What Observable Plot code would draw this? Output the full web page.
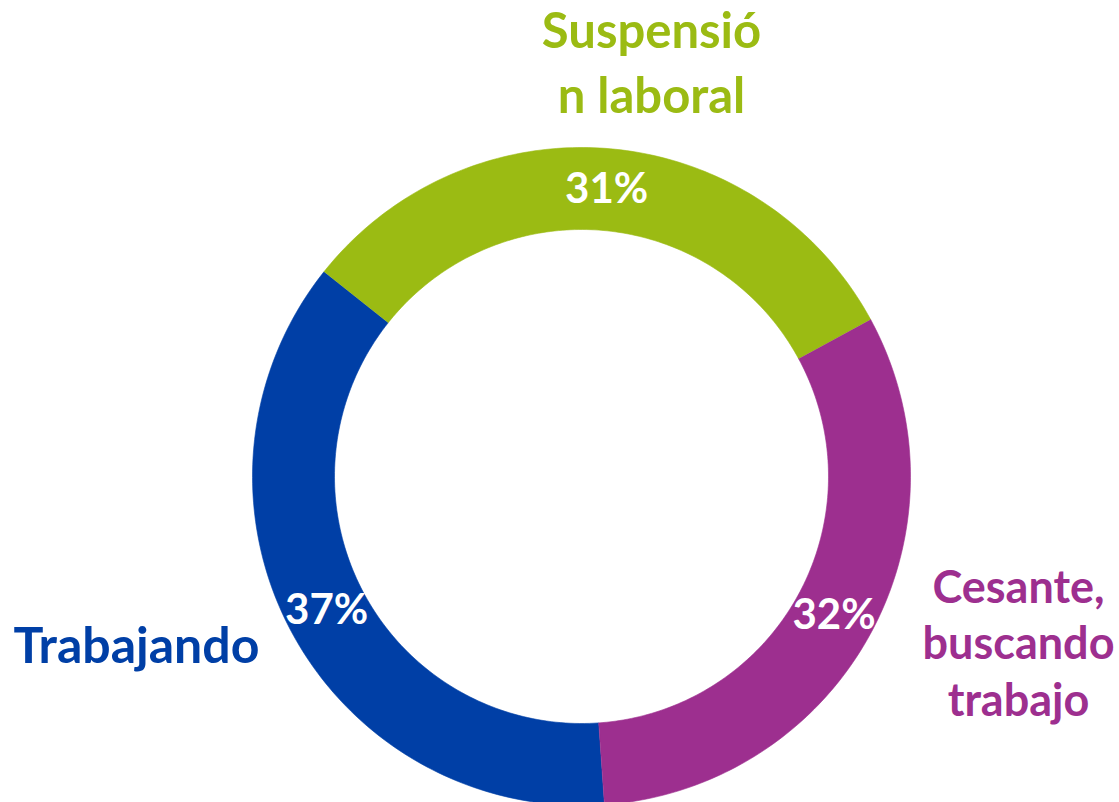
<!DOCTYPE html>
<html>
<head>
<meta charset="utf-8">
<script src="https://cdn.jsdelivr.net/npm/d3@7"></script>
<script src="https://cdn.jsdelivr.net/npm/@observablehq/plot@0.6"></script>
<style>
  html, body { margin: 0; padding: 0; background: #fff; }
  #chart { width: 1119px; height: 802px; overflow: hidden; }
</style>
</head>
<body>
<div id="chart"></div>
<script>
// ---- data ----
const categories = ["Trabajando", "Suspensión laboral", "Cesante, buscando trabajo"];
const values = [36.8, 31.4, 31.8];
const colors = ["#003FA6", "#9BBB13", "#9D2F8F"];
const labelLines = [
  ["Trabajando"],
  ["Suspensió", "n laboral"],
  ["Cesante,", "buscando", "trabajo"]
];

// ---- layout ----
const W = 1119, H = 802;
const cx = 581, cy = 476, rOuter = 329, rInner = 247;
const startAngle = 176 * Math.PI / 180;
const labelLayout = [
  {x: 136, y0: 662, step: 0, size: 50},
  {x: 651, y0: 47, step: 65, size: 49},
  {x: 1018, y0: 602, step: 56.5, size: 45}
];

const pie = d3.pie().sort(null).value(d => d.value)
  .startAngle(startAngle).endAngle(startAngle + 2 * Math.PI);
const arcs = pie(categories.map((c, i) => ({category: c, value: values[i]})));

const pt = (a, r) => [cx + r * Math.sin(a), cy - r * Math.cos(a)];
const ring = [];
arcs.forEach(a => {
  const n = 120;
  for (let k = 0; k <= n; k++) {
    const t = a.startAngle + (a.endAngle - a.startAngle) * k / n;
    const [x, y] = pt(t, rOuter);
    ring.push({category: a.data.category, x, y});
  }
  for (let k = n; k >= 0; k--) {
    const t = a.startAngle + (a.endAngle - a.startAngle) * k / n;
    const [x, y] = pt(t, rInner);
    ring.push({category: a.data.category, x, y});
  }
});

const pctLabels = arcs.map(a => {
  const m = (a.startAngle + a.endAngle) / 2;
  const [x, y] = pt(m, (rOuter + rInner) / 2);
  return {x, y, text: Math.round(a.data.value) + "%"};
});

const catLabels = [];
labelLines.forEach((lines, i) => {
  const L = labelLayout[i];
  lines.forEach((t, j) => catLabels.push({
    category: categories[i], text: t, x: L.x, y: L.y0 + j * L.step, size: L.size
  }));
});

const fontFamily = "Lato, 'Open Sans', sans-serif";

const chart = Plot.plot({
  width: W, height: H, margin: 0,
  style: {fontFamily, background: "#fff"},
  x: {domain: [0, W], range: [0, W], axis: null},
  y: {domain: [0, H], range: [0, H], axis: null},
  color: {domain: categories, range: colors},
  marks: [
    Plot.line(ring, {x: "x", y: "y", z: "category", fill: "category", stroke: "category", strokeWidth: 0.6, curve: "linear"}),
    Plot.text(pctLabels, {x: "x", y: "y", text: "text", fill: "white", fontSize: 42, fontWeight: "bold", textAnchor: "middle", lineAnchor: "middle"}),
    ...labelLayout.map((L, i) =>
      Plot.text(catLabels.filter(d => d.category === categories[i]), {
        x: "x", y: "y", text: "text", fill: "category", fontSize: L.size, fontWeight: "bold",
        textAnchor: "middle", lineAnchor: "bottom"
      }))
  ]
});
document.getElementById("chart").appendChild(chart);
</script>
</body>
</html>
